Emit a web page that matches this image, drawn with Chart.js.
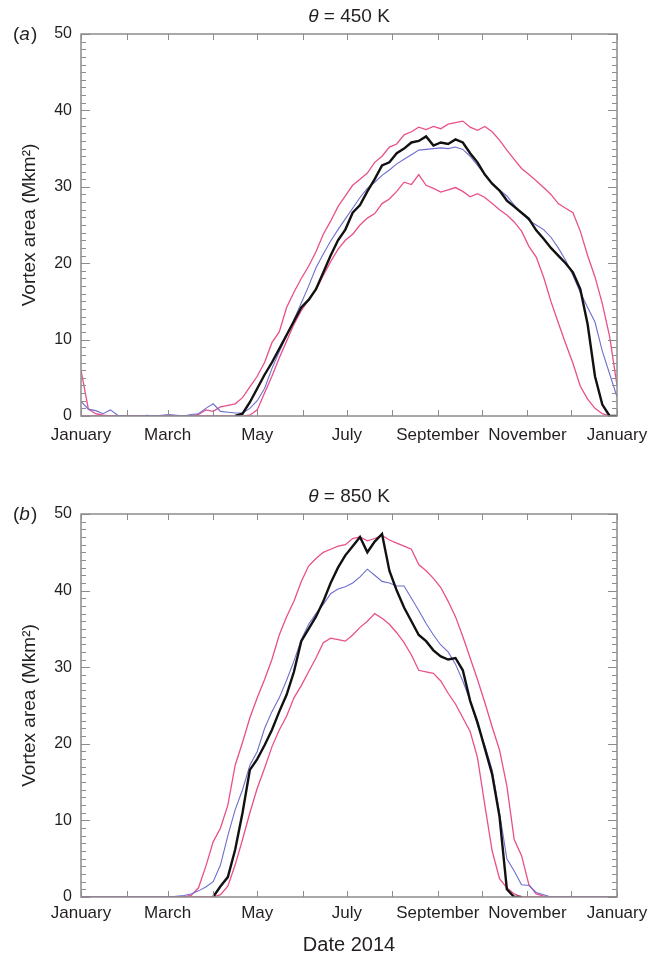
<!DOCTYPE html>
<html>
<head>
<meta charset="utf-8">
<script src="https://cdn.jsdelivr.net/npm/chart.js@4.4.1/dist/chart.umd.min.js"></script>
<style>
  html, body { margin: 0; padding: 0; background: #fff; }
  #wrap { position: relative; width: 657px; height: 957px; }
  canvas { position: absolute; left: 0; }
  #chartA { top: 0; }
  #chartB { top: 480px; }
</style>
</head>
<body>
<div id="wrap">
  <canvas id="chartA" width="657" height="480"></canvas>
  <canvas id="chartB" width="657" height="477"></canvas>
</div>
<script>
// day of year (every 5 days) the curves were read at
const DAYS = [0,5,10,15,20,25,30,35,40,45,50,55,60,65,70,75,80,85,90,95,
  100,105,110,115,120,125,130,135,140,145,150,155,160,165,170,175,180,185,190,195,
  200,205,210,215,220,225,230,235,240,245,250,255,260,265,270,275,280,285,290,295,
  300,305,310,315,320,325,330,335,340,345,350,355,360,365];

const MONTH_STARTS = [0,31,59,90,120,151,181,212,243,273,304,334,365];
const MONTH_LABELS = ['January','','March','','May','','July','','September','','November','','January'];

// (a) theta = 450 K
const A_MAX = [6.0,0.9,0.3,0.1,0,0,0,0,0,0,
  0,0,0,0,0,0,0.2,0.8,0.6,1.2,
  1.4,1.6,2.4,3.8,5.2,7.0,9.6,11.0,14.2,16.2,
  18.0,19.6,21.5,23.8,25.5,27.4,28.8,30.2,31.0,31.8,
  33.2,34.0,35.2,35.6,36.8,37.2,37.8,37.5,37.9,37.6,
  38.2,38.4,38.6,37.8,37.4,37.9,37.2,36.1,34.8,33.6,
  32.4,31.6,30.8,29.9,29.0,27.8,27.2,26.6,24.2,21.0,
  18.2,14.7,10.4,4.0];
const A_MIN = [0,0,0,0,0,0,0,0,0,0,
  0,0,0,0,0,0,0,0,0,0,
  0,0,0,0.1,0.8,3.0,5.2,7.6,9.8,12.0,
  13.8,15.2,16.5,18.4,20.2,21.8,23.0,23.8,25.0,25.9,
  26.5,27.8,28.4,29.4,30.6,30.3,31.6,30.2,29.8,29.3,
  29.6,29.9,29.4,28.7,29.1,28.6,27.8,27.0,26.3,25.4,
  24.2,22.2,20.8,18.2,15.0,12.2,9.5,6.9,3.9,2.2,
  1.0,0.3,0,0];
const A_MEAN = [1.9,0.9,0.7,0.3,0.8,0.1,0,0,0,0.1,
  0,0.1,0.2,0.1,0,0.2,0.3,1.0,1.6,0.6,
  0.5,0.4,0.4,1.0,2.0,3.6,6.2,8.4,10.5,12.6,
  14.8,17.0,19.4,21.2,22.9,24.4,25.8,27.2,28.6,29.8,
  30.6,31.5,32.2,33.0,33.6,34.2,34.8,34.9,35.0,35.1,
  35.0,35.2,34.9,34.0,32.8,31.6,30.4,29.6,28.8,27.6,
  26.6,25.6,25.0,24.4,23.4,22.0,20.4,18.4,16.2,14.2,
  12.3,8.5,5.5,2.5];
const A_2014 = [null,null,null,null,null,null,null,null,null,null,
  null,null,null,null,null,null,null,null,null,null,
  null,0,0.3,1.8,3.6,5.4,7.0,8.8,10.6,12.4,
  14.2,15.2,16.6,18.8,21.0,23.0,24.4,26.6,27.6,29.4,
  31.0,32.8,33.2,34.4,35.0,35.8,36.0,36.6,35.4,35.8,
  35.6,36.2,35.8,34.4,33.2,31.6,30.4,29.5,28.2,27.4,
  26.6,25.8,24.3,23.2,22.0,21.0,20.0,18.8,16.6,12.0,
  5.2,1.5,0,0];

// (b) theta = 850 K
const B_MAX = [0,0,0,0,0,0,0,0,0,0,
  0,0,0,0,0,0.2,1.2,4.0,7.2,9.0,
  12.0,17.2,20.2,23.4,26.0,28.4,31.0,34.2,36.6,38.6,
  41.2,43.2,44.2,45.0,45.4,45.8,46.0,46.8,47.0,46.5,
  46.8,47.2,46.6,46.2,45.8,45.4,43.4,42.6,41.6,40.4,
  38.6,36.6,34.0,31.2,28.4,25.4,22.2,19.2,14.5,7.5,
  5.4,1.6,0.4,0.1,0,0,0,0,0,0,
  0,0,0,0];
const B_MIN = [0,0,0,0,0,0,0,0,0,0,
  0,0,0,0,0,0,0,0,0,0.3,
  1.4,4.2,7.5,11.0,14.2,16.8,19.6,21.8,23.6,26.0,
  27.6,29.4,31.2,33.2,33.8,33.6,33.4,34.2,35.2,36.0,
  37.0,36.4,35.6,34.5,33.2,31.6,29.6,29.4,29.2,28.2,
  26.6,25.2,23.4,21.6,18.2,12.0,6.0,2.4,1.2,0.4,
  0,0,0,0,0,0,0,0,0,0,
  0,0,0,0];
const B_MEAN = [0,0,0,0,0,0,0,0,0,0,
  0,0,0,0.1,0.2,0.4,0.8,1.3,2.0,4.2,
  8.0,11.4,14.0,17.2,19.0,22.0,24.2,26.0,28.3,30.8,
  33.6,35.6,37.0,38.2,39.6,40.2,40.5,41.0,41.8,42.8,
  42.0,41.2,41.0,40.6,40.6,39.0,37.4,35.7,34.2,32.9,
  32.0,30.4,28.2,25.6,22.4,19.8,16.6,11.0,5.0,3.4,
  1.6,1.5,0.6,0.3,0,0,0,0,0,0,
  0,0,0,0];
const B_2014 = [null,null,null,null,null,null,null,null,null,null,
  null,null,null,null,null,null,null,null,0,1.4,
  2.6,6.2,11.0,16.6,18.0,19.8,21.8,24.2,26.4,29.4,
  33.4,35.0,36.6,38.6,41.0,43.0,44.6,45.8,47.0,45.0,
  46.4,47.4,42.6,40.0,37.8,36.0,34.2,33.4,32.2,31.4,
  31.0,31.2,29.6,25.6,22.8,19.4,16.0,10.5,1.0,0,
  0,null,null,null,null,null,null,null,null,null,
  null,null,null,null];

const FONT = '"Liberation Sans", Arial, Helvetica, sans-serif';
const TEXT_COLOR = '#231f20';
const AXIS_COLOR = '#8c8c8c';
const PINK = '#ea4f8b';
const BLUE = '#6e6ecf';
const BLACK = '#111111';

Chart.defaults.font.family = FONT;

// grey box with inward ticks on all four sides
const framePlugin = {
  id: 'frame',
  afterDatasetsDraw(chart) {
    const { ctx, chartArea: a, scales: { x, y } } = chart;
    ctx.save();
    ctx.strokeStyle = AXIS_COLOR;
    ctx.lineWidth = 1;
    ctx.beginPath();
    MONTH_STARTS.forEach(d => {
      const px = Math.round(x.getPixelForValue(d)) + 0.5;
      ctx.moveTo(px, a.bottom); ctx.lineTo(px, a.bottom - 6);
      ctx.moveTo(px, a.top); ctx.lineTo(px, a.top + 6);
    });
    for (let v = 0; v <= 50; v++) {
      const py = Math.round(y.getPixelForValue(v)) + 0.5;
      const len = v % 10 === 0 ? 9 : 5;
      ctx.moveTo(a.left, py); ctx.lineTo(a.left + len, py);
      ctx.moveTo(a.right, py); ctx.lineTo(a.right - len, py);
    }
    ctx.stroke();
    ctx.lineWidth = 1.5;
    ctx.strokeRect(a.left, a.top, a.right - a.left, a.bottom - a.top);
    ctx.restore();
  }
};

// panel letter "(a)" and the theta title
const labelPlugin = {
  id: 'panelLabels',
  afterDraw(chart, args, opts) {
    const ctx = chart.ctx;
    const plain = '19px ' + FONT;
    const ital = 'italic 19px ' + FONT;
    ctx.save();
    ctx.fillStyle = TEXT_COLOR;
    ctx.textBaseline = 'middle';
    ctx.textAlign = 'left';

    const rest = ' = ' + opts.level + ' K';
    ctx.font = ital;
    const w1 = ctx.measureText('\u03b8').width;
    ctx.font = plain;
    const w2 = ctx.measureText(rest).width;
    const x0 = opts.titleX - (w1 + w2) / 2;
    ctx.font = ital; ctx.fillText('\u03b8', x0, opts.titleY);
    ctx.font = plain; ctx.fillText(rest, x0 + w1, opts.titleY);

    let x = 13;
    ctx.font = plain; ctx.fillText('(', x, opts.letterY); x += ctx.measureText('(').width;
    ctx.font = ital; ctx.fillText(opts.letter, x, opts.letterY); x += ctx.measureText(opts.letter).width + 1;
    ctx.font = plain; ctx.fillText(')', x, opts.letterY);
    ctx.restore();
  }
};

function series(vals) {
  return DAYS.map((d, i) => ({ x: d, y: vals[i] }));
}

function makePanel(id, p) {
  const ctx = document.getElementById(id).getContext('2d');
  return new Chart(ctx, {
    type: 'line',
    data: {
      datasets: [
        { label: '2014', data: series(p.y2014), borderColor: BLACK, borderWidth: 2.4 },
        { label: 'mean', data: series(p.mean), borderColor: BLUE, borderWidth: 1.1 },
        { label: 'max', data: series(p.max), borderColor: PINK, borderWidth: 1.3 },
        { label: 'min', data: series(p.min), borderColor: PINK, borderWidth: 1.3 }
      ]
    },
    options: {
      responsive: false,
      devicePixelRatio: 1,
      animation: false,
      events: [],
      elements: { point: { radius: 0 }, line: { tension: 0 } },
      layout: { padding: { top: 34, right: 40, left: 0, bottom: 0 } },
      scales: {
        x: {
          type: 'linear', min: 0, max: 365,
          grid: { display: false, drawTicks: false },
          border: { display: false },
          afterBuildTicks: s => { s.ticks = MONTH_STARTS.map(v => ({ value: v })); },
          afterFit: s => { s.height = p.xHeight; },
          ticks: {
            autoSkip: false, maxRotation: 0, padding: p.xPad,
            color: TEXT_COLOR, font: { size: 17 },
            callback: (v, i) => MONTH_LABELS[i]
          },
          title: { display: !!p.xTitle, text: p.xTitle, color: TEXT_COLOR, font: { size: 20 }, padding: 0 }
        },
        y: {
          min: 0, max: 50,
          grid: { display: false, drawTicks: false },
          border: { display: false },
          afterFit: s => { s.width = 81; },
          ticks: { stepSize: 10, padding: 9, color: TEXT_COLOR, font: { size: 16 } },
          title: {
            display: true, text: 'Vortex area (Mkm\u00b2)', color: TEXT_COLOR,
            font: { size: 19 }, padding: { top: 18, bottom: 0 }
          }
        }
      },
      plugins: {
        legend: { display: false },
        tooltip: { enabled: false },
        panelLabels: { level: p.level, letter: p.letter, titleX: 349, titleY: 17, letterY: 35 }
      }
    },
    plugins: [framePlugin, labelPlugin]
  });
}

makePanel('chartA', {
  max: A_MAX, min: A_MIN, mean: A_MEAN, y2014: A_2014,
  level: 450, letter: 'a', xHeight: 64, xPad: 9, xTitle: ''
});
makePanel('chartB', {
  max: B_MAX, min: B_MIN, mean: B_MEAN, y2014: B_2014,
  level: 850, letter: 'b', xHeight: 60, xPad: 6, xTitle: 'Date 2014'
});
</script>
</body>
</html>
